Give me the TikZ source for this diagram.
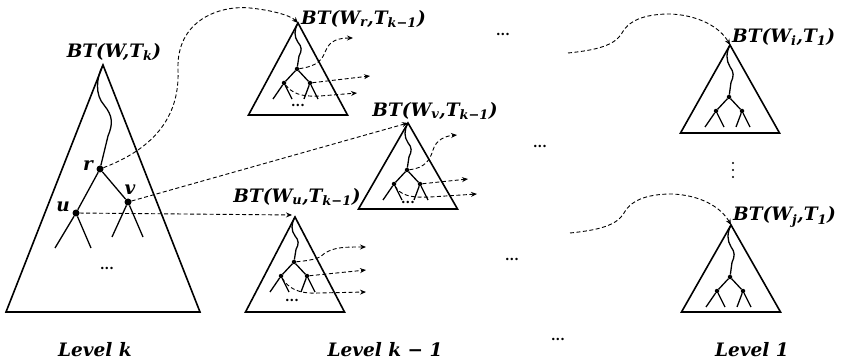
\documentclass[tikz,border=0pt]{standalone}
\usepackage{fontspec}
\setmainfont{DejaVu Serif}
\usetikzlibrary{arrows.meta}

% #1 name, #2/#3 apex, #4 height, #5 depth of first branch node
\newcommand{\bTri}[5]{%
\begin{scope}[shift={(#2,#3)}]
\coordinate (#1-apex) at (0,0);
\draw[tri] (#1-apex) -- (-49.5,#4) -- (49.5,#4) -- cycle;
\node[sdot] (#1-top) at (-1,#5) {};
\node[sdot] (#1-l) at (-14,#5+14) {};
\node[sdot] (#1-r) at (12,#5+14) {};
\coordinate (#1-l1) at (-25,#5+30);
\coordinate (#1-l2) at (-6,#5+30);
\coordinate (#1-r1) at (6,#5+30);
\coordinate (#1-r2) at (20,#5+30);
\draw[tree] (#1-apex) .. controls (-4,0.15*#5) and (-4,0.3*#5) .. (0,0.42*#5)
  .. controls (4,0.52*#5) and (4,0.6*#5) .. (1,0.72*#5) -- (#1-top);
\draw[tree] (#1-l) -- (#1-top) -- (#1-r);
\draw[tree] (#1-l1) -- (#1-l) -- (#1-l2);
\draw[tree] (#1-r1) -- (#1-r) -- (#1-r2);
\end{scope}}
\newcommand{\bSub}[1]{\textsubscript{#1}}

\begin{document}
\begin{tikzpicture}[x=1pt,y=-1pt,
  tri/.style={line width=1.6pt, line join=miter},
  tree/.style={line width=1.3pt},
  bdot/.style={circle, fill, inner sep=0pt, minimum size=7pt},
  sdot/.style={circle, fill, inner sep=0pt, minimum size=4.5pt},
  link/.style={line width=0.9pt, dash pattern=on 4pt off 2.5pt, -{Stealth[length=6pt,width=5pt]}},
  lbl/.style={font=\fontsize{18.5}{22}\selectfont\bfseries\itshape, inner sep=0pt},
  gap/.style={font=\fontsize{13}{15}\selectfont\bfseries, inner sep=0pt}]
\useasboundingbox (0,0) rectangle (842,363);

% level k
\coordinate (W-apex) at (103,65);
\draw[tri] (W-apex) -- (6,312) -- (200,312) -- cycle;
\node[bdot] (r) at (100,169) {};
\node[bdot] (u) at (76,213) {};
\node[bdot] (v) at (128,202) {};
\coordinate (u1) at (55,248);
\coordinate (u2) at (91,248);
\coordinate (v1) at (112,237);
\coordinate (v2) at (143,237);
\draw[tree] (W-apex) .. controls (96,78) and (95,95) .. (104,105)
  .. controls (113,116) and (113,124) .. (108,136) -- (r);
\draw[tree] (u1) -- (u) -- (r) -- (v) -- (v2);
\draw[tree] (u) -- (u2);
\draw[tree] (v) -- (v1);
\node[lbl] (W-lbl) at (114,52) {BT(W,T\bSub{k})};
\node[lbl] (r-lbl) at (88,166) {r};
\node[lbl] (u-lbl) at (63,207) {u};
\node[lbl] (v-lbl) at (130,190) {v};
\node[gap] (W-dots) at (107,268) {...};

% level k-1
\bTri{Wr}{298}{23}{92}{46}
\bTri{Wv}{408}{123}{86}{47}
\bTri{Wu}{295}{217}{95}{45}
\node[lbl, anchor=west] (Wr-lbl) at (301,19) {BT(W\bSub{r},T\bSub{k−1})};
\node[lbl] (Wv-lbl) at (435,111) {BT(W\bSub{v},T\bSub{k−1})};
\node[lbl] (Wu-lbl) at (297,197) {BT(W\bSub{u},T\bSub{k−1})};
\node[gap] (Wr-dots) at (298,105) {...};
\node[gap] (Wv-dots) at (408,202) {...};
\node[gap] (Wu-dots) at (292,300) {...};

\draw[link] (r) .. controls (150,150) and (180,120) .. (178,70)
  .. controls (176,20) and (220,5) .. (250,8)
  .. controls (270,10) and (290,15) .. (Wr-apex);
\draw[link] (v) -- (Wv-apex);
\coordinate (Wu-in) at (292,215);
\draw[link] (u) -- (Wu-in);

\coordinate (Wr-e1) at (353,38);
\coordinate (Wr-e2) at (370,76);
\coordinate (Wr-e3) at (357,93);
\draw[link] (Wr-top) .. controls (318,66) and (322,60) .. (326,50)
  .. controls (330,40) and (340,38) .. (Wr-e1);
\draw[link] (Wr-r) -- (Wr-e2);
\draw[link] (Wr-l) .. controls (292,93) and (300,97) .. (320,96) -- (Wr-e3);

\coordinate (Wv-e1) at (457,135);
\coordinate (Wv-e2) at (468,179);
\coordinate (Wv-e3) at (477,194);
\draw[link] (Wv-top) .. controls (425,168) and (430,160) .. (433,150)
  .. controls (436,140) and (445,136) .. (Wv-e1);
\draw[link] (Wv-r) -- (Wv-e2);
\draw[link] (Wv-l) .. controls (400,195) and (410,198) .. (430,197) -- (Wv-e3);

\coordinate (Wu-e1) at (366,247);
\coordinate (Wu-e2) at (366,270);
\coordinate (Wu-e3) at (366,292);
\draw[link] (Wu-top) .. controls (315,260) and (320,258) .. (325,253)
  .. controls (335,247) and (345,247) .. (Wu-e1);
\draw[link] (Wu-r) -- (Wu-e2);
\draw[link] (Wu-l) .. controls (288,288) and (298,294) .. (318,293) -- (Wu-e3);

% gaps between levels
\node[gap] (g1) at (503,34) {...};
\node[gap] (g2) at (540,146) {...};
\node[gap] (g3) at (512,259) {...};
\node[gap] (g4) at (558,339) {...};
\fill (733,163) circle (1.2) (733,170) circle (1.2) (733,177) circle (1.2);

% level 1
\bTri{Wi}{730}{45}{88}{52}
\bTri{Wj}{731}{225}{87}{52}
\node[lbl, anchor=west] (Wi-lbl) at (732,37) {BT(W\bSub{i},T\bSub{1})};
\node[lbl, anchor=west] (Wj-lbl) at (733,217) {BT(W\bSub{j},T\bSub{1})};

\coordinate (s1) at (568,53);
\draw[link] (s1) .. controls (598,50) and (615,45) .. (622,33)
  .. controls (630,18) and (650,14) .. (670,14)
  .. controls (698,15) and (720,27) .. (Wi-apex);
\coordinate (s2) at (570,233);
\draw[link] (s2) .. controls (600,230) and (617,225) .. (624,213)
  .. controls (632,198) and (652,194) .. (672,194)
  .. controls (700,195) and (721,207) .. (Wj-apex);

% level captions
\node[lbl] (lvk) at (95,350) {Level k};
\node[lbl] (lvk1) at (385,350) {Level k − 1};
\node[lbl] (lv1) at (752,350) {Level 1};
\end{tikzpicture}
\end{document}
